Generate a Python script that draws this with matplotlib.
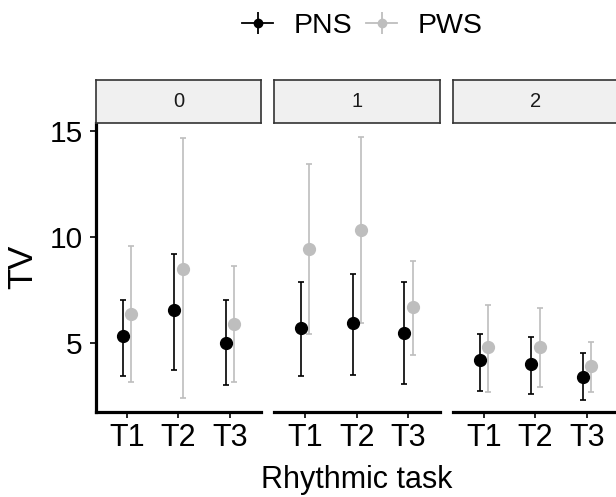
import matplotlib
matplotlib.use("Agg")
import matplotlib.pyplot as plt
from matplotlib.lines import Line2D
from matplotlib.legend_handler import HandlerTuple
import numpy as np

plt.rcParams['font.family'] = ['Liberation Sans', 'DejaVu Sans']

panels = ["0", "1", "2"]
tasks = ["T1", "T2", "T3"]
groups = ["PNS", "PWS"]
colors = {"PNS": "#000000", "PWS": "#BEBEBE"}

# mean, lower, upper per panel per task
pns_mean = [[5.31, 6.54, 5.00], [5.71, 5.94, 5.47], [4.17, 4.01, 3.40]]
pns_low = [[3.46, 3.74, 3.00], [3.46, 3.50, 3.07], [2.75, 2.61, 2.29]]
pns_high = [[7.04, 9.20, 7.04], [7.89, 8.27, 7.89], [5.44, 5.28, 4.53]]
pws_mean = [[6.38, 8.50, 5.91], [9.45, 10.34, 6.70], [4.79, 4.79, 3.90]]
pws_low = [[3.14, 2.41, 3.14], [5.42, 5.94, 4.42], [2.67, 2.91, 2.67]]
pws_high = [[9.56, 14.67, 8.65], [13.44, 14.75, 8.88], [6.81, 6.65, 5.05]]

data = {
    "PNS": (pns_mean, pns_low, pns_high),
    "PWS": (pws_mean, pws_low, pws_high),
}
dodge = {"PNS": -0.08, "PWS": 0.08}

W, H = 616, 497
fig = plt.figure(figsize=(W / 100, H / 100), dpi=100)

panel_left = [95.7, 274.0, 452.7]
panel_w = 165.5
top_px, bot_px = 123.3, 411.7
strip_h = 43

for i, p in enumerate(panels):
    l = panel_left[i] / W
    b = 1 - bot_px / H
    ax = fig.add_axes([l, b, panel_w / W, (bot_px - top_px) / H])
    xs = np.arange(1, len(tasks) + 1)
    for g in ["PWS", "PNS"]:
        m, lo, hi = data[g]
        mm = np.array(m[i]); ll = np.array(lo[i]); hh = np.array(hi[i])
        ax.errorbar(xs + dodge[g], mm, yerr=[mm - ll, hh - mm], fmt='o',
                    color=colors[g], ms=8.5, elinewidth=1.2, capsize=2.2,
                    capthick=1.2, zorder=3 if g == "PNS" else 2)
    ax.set_xlim(0.4, 3.6)
    ax.set_ylim(1.75, 15.38)
    ax.set_xticks(xs)
    ax.set_xticklabels(tasks, fontsize=22)
    ax.set_yticks([5, 10, 15])
    for s in ["top", "right"]:
        ax.spines[s].set_visible(False)
    ax.spines["bottom"].set_linewidth(2.3)
    ax.spines["left"].set_linewidth(2.3)
    ax.tick_params(axis='x', length=4.3, width=1.2, pad=4, colors='black')
    if i == 0:
        ax.set_yticklabels(["5", "10", "15"], fontsize=21.5)
        ax.tick_params(axis='y', length=4.3, width=1.2, pad=5)
    else:
        ax.spines["left"].set_visible(False)
        ax.tick_params(axis='y', left=False, labelleft=False)
    # strip
    sax = fig.add_axes([l, 1 - top_px / H, panel_w / W, strip_h / H])
    sax.set_xticks([]); sax.set_yticks([])
    sax.set_facecolor("#F0F0F0")
    for s in sax.spines.values():
        s.set_linewidth(1.2)
        s.set_color("#333333")
    sax.text(0.5, 0.5, p, ha='center', va='center', fontsize=14.5, color="#1A1A1A",
             transform=sax.transAxes)

fig.text(357 / W, 1 - 488 / H, "Rhythmic task", ha='center', va='baseline', fontsize=22)
fig.text(22.5 / W, 1 - 267 / H, "TV", ha='center', va='center', fontsize=25, rotation=90)

handles = []
for g in groups:
    h1 = Line2D([], [], color=colors[g], lw=1.3, marker='o', ms=6)
    h2 = Line2D([], [], color=colors[g], ls='none', marker='|', ms=16, mew=1.3)
    handles.append((h1, h2))
fig.legend(handles, groups, handler_map={tuple: HandlerTuple(ndivide=1)},
           loc='center', bbox_to_anchor=(362 / W, 1 - 26 / H), ncol=2,
           frameon=False, fontsize=20.5, handlelength=1.1, handletextpad=0.7,
           columnspacing=0.5)

fig.savefig("out.png", dpi=100)
